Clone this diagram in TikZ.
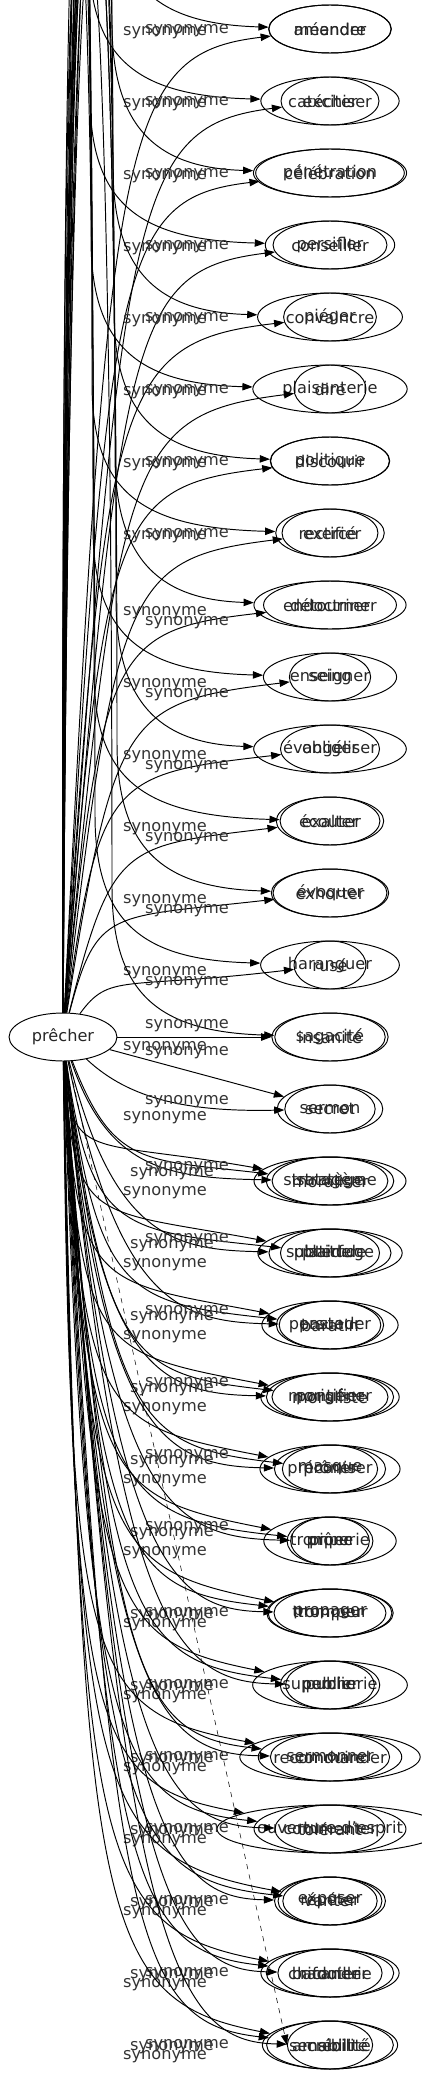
\documentclass[tikz,border=0pt]{standalone}
\usepackage{fontspec}
\setmainfont{DejaVu Sans}
\usetikzlibrary{arrows.meta,shapes.geometric}

\tikzset{
  word/.style={ellipse,draw,line width=.55pt,inner xsep=4pt,inner ysep=1pt,
    minimum width=1.44cm,minimum height=.96cm,text=black!85,
    font=\fontsize{9.2}{11}\selectfont},
  syn/.style={line width=.55pt,-{Triangle[length=5.8pt,width=4.2pt]}},
  lab/.style={inner sep=0pt,text=black!80,font=\fontsize{9.2}{11}\selectfont},
}

\begin{document}
\begin{tikzpicture}[x=.02cm,y=-.02cm]
  \useasboundingbox (0,0) rectangle (422,2075);
  \node[word] (pre) at (63,1037) {prêcher};

  % rows above: one edge loops over the top, one climbs from below
  \foreach \r/\wa/\wb in {1/méandre/amender,2/catéchiser/exciter,
      3/pénétration/célébration,4/conseiller/persifler,5/convaincre/piéger,
      6/plaisanterie/dire,7/politique/discourir,8/rectifier/exercé,
      9/endoctriner/détourner,10/enseigner/seing,11/évangéliser/obliger,
      12/exalter/écouter,13/exhorter/évoquer,14/haranguer/rusé}{
    \pgfmathsetmacro\yy{29+72*(\r-1)}
    \pgfmathsetmacro\dd{1037-\yy}
    \pgfmathsetmacro\xu{57+mod(5*\r,17)}
    \pgfmathsetmacro\xd{88+mod(23*\r,45)}
    \pgfmathsetmacro\xb{96+mod(13*\r,28)}
    \pgfmathsetmacro\la{\r<9 ? 2 : 18}
    \pgfmathsetmacro\lb{\r<9 ? 4 : 8}
    \node[word] (w\r-a) at (330,\yy) {\wa};
    \node[word] (w\r-b) at (330,\yy) {\wb};
    \draw[syn] (pre) .. controls (\xu,-420) and (\xd,-420) .. (\xd,\yy-150)
      .. controls (\xd,\yy-40) and (\xd+50,\yy-5) .. (w\r-a);
    \draw[syn] (pre) .. controls (\xb,\yy+0.1*\dd) and (\xb+12,\yy+25) .. (w\r-b);
    \node[lab] (s\r-a) at (187,\yy+\la) {synonyme};
    \node[lab] (s\r-b) at (165,\yy+\lb) {synonyme};
  }

  % same row as the source
  \node[word] (w15-a) at (330,1037) {sagacité};
  \node[word] (w15-b) at (330,1037) {insanité};
  \draw[syn] (pre) -- (w15-a);
  \draw[syn] (pre) .. controls (60,-420) and (112,-420) .. (112,887)
    .. controls (112,997) and (162,1032) .. (w15-b);
  \node[lab] (s15-a) at (187,1026) {synonyme};
  \node[lab] (s15-b) at (165,1048) {synonyme};
  \node[lab] (s15-c) at (187,1053) {synonyme};

  \node[word] (w16-a) at (330,1109) {sermon};
  \node[word] (w16-b) at (330,1109) {secret};
  \draw[syn] (pre) -- (w16-a);
  \draw[syn] (pre) .. controls (130,1100) and (190,1112) .. (w16-b);
  \node[lab] (s16-a) at (187,1102) {synonyme};
  \node[lab] (s16-b) at (165,1118) {synonyme};

  % rows below
  \foreach \r/\wa/\wb/\wc in {17/stratagème/moraliser/stratège,
      18/subterfuge/plaider/platitude,19/persuader/pasteur/baratin,
      20/morigéner/pontifier/moraliste,21/préconiser/prôner/masque,
      22/tromperie/prône/piper,23/propager/trompeur/tromper,
      24/supercherie/publier/public,25/recommander/sermonner/conduire,
      26/ouverture d'esprit/commenter/tolérant,27/répéter/vanter/exposer,
      28/chicanerie/bafouiller/radoter,29/sensibilité/amabilité/crédit}{
    \pgfmathsetmacro\yy{29+72*(\r-1)}
    \pgfmathsetmacro\dd{\yy-1037}
    \pgfmathsetmacro\ee{min(45,0.3*\dd)}
    \pgfmathsetmacro\xa{70+mod(3*\r,25)}
    \pgfmathsetmacro\xb{84+mod(7*\r,30)}
    \pgfmathsetmacro\xc{98+mod(5*\r,25)}
    \pgfmathsetmacro\la{\r<23 ? -13 : 1}
    \pgfmathsetmacro\lb{\r<23 ? -7 : 3}
    \node[word] (w\r-a) at (330,\yy) {\wa};
    \node[word] (w\r-b) at (330,\yy) {\wb};
    \node[word] (w\r-c) at (330,\yy) {\wc};
    \draw[syn] (pre) .. controls (\xa,\yy-0.12*\dd) and (\xa+15,\yy-\ee) .. (w\r-a);
    \draw[syn] (pre) .. controls (\xb,\yy-0.1*\dd) and (\xb+30,\yy-0.5*\ee) .. (w\r-b);
    \draw[syn] (pre) .. controls (\xc,\yy-0.08*\dd) and (\xc+60,\yy-3) .. (w\r-c);
    \node[lab] (s\r-a) at (187,\yy+\la) {synonyme};
    \node[lab] (s\r-b) at (172,\yy+\lb) {synonyme};
    \node[lab] (s\r-c) at (165,\yy+12) {synonyme};
  }

  \draw[syn,dashed,line width=.3pt] (pre) -- (w29-c.west);
\end{tikzpicture}
\end{document}
